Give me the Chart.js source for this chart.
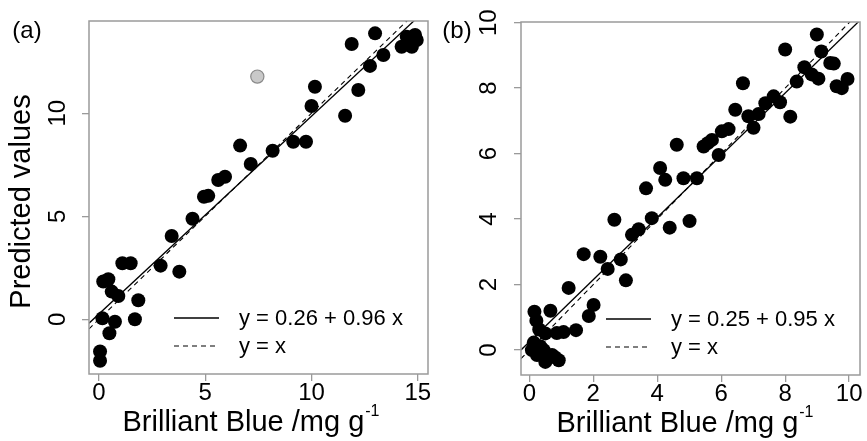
<!DOCTYPE html>
<html lang="en">
<head>
<meta charset="UTF-8">
<title>Brilliant Blue - predicted vs measured</title>
<script src="https://cdn.jsdelivr.net/npm/chart.js"></script>
<style>
  html, body { margin: 0; padding: 0; background: #fff; }
  #wrap { position: relative; width: 867px; height: 441px; }
  canvas { position: absolute; top: 0; }
  #chartA { left: 0; }
  #chartB { left: 436px; }
</style>
</head>
<body>
<div id="wrap">
  <canvas id="chartA" width="436" height="441"></canvas>
  <canvas id="chartB" width="431" height="441"></canvas>
</div>
<script>
// ---- panel (a) data ----
const aMeasured = [0.05, 0.05, 0.49, 0.75, 0.16, 1.69, 1.85, 0.91, 0.60, 0.20, 0.44, 1.10, 1.49,
  2.90, 3.78, 3.42, 4.40, 4.94, 5.14, 5.61, 5.93, 6.64, 7.14, 8.17, 9.14, 9.74, 10.00, 10.16,
  11.58, 11.89, 12.20, 12.75, 12.99, 13.38, 14.24, 14.48, 14.87, 14.95, 14.72];
const aPredicted = [-2.02, -1.57, -0.68, -0.12, 0.05, 0.00, 0.92, 1.13, 1.34, 1.83, 1.94, 2.72, 2.72,
  2.60, 2.31, 4.04, 4.88, 5.95, 5.99, 6.76, 6.92, 8.43, 7.54, 8.18, 8.62, 8.62, 10.35, 11.29,
  9.88, 13.36, 11.13, 12.30, 13.88, 12.83, 13.23, 13.72, 13.80, 13.56, 13.23];
const aOutlierX = [7.45];
const aOutlierY = [11.78];
const aXTicks = [0, 5, 10, 15];
const aYTicks = [0, 5, 10];
const aFit = [0.26, 0.96];   // intercept, slope

// ---- panel (b) data ----
const bMeasured = [8.99, 8.00, 9.13, 8.60, 9.41, 9.52, 8.83, 9.04, 8.36, 9.61, 9.77, 9.95, 6.68,
  8.16, 7.64, 7.84, 7.38, 7.17, 6.85, 7.01, 6.44, 6.23, 6.02, 5.92, 5.71, 5.45, 5.58, 4.61,
  5.24, 4.82, 4.09, 4.25, 3.65, 3.83, 4.39, 5.01, 2.66, 3.42, 3.21, 1.70, 2.22, 2.45, 2.86,
  3.02, 1.23, 2.01, 1.86, 0.66, 1.46, 1.07, 0.86, 0.16, 0.22, 0.31, 0.50, 0.14, 0.34, 0.08,
  0.24, 0.45, 0.50, 0.71, 0.92, 0.80];
const bPredicted = [9.64, 9.18, 9.12, 8.64, 8.77, 8.75, 8.42, 8.29, 8.20, 8.06, 8.00, 8.28, 8.15,
  7.13, 7.75, 7.57, 7.54, 7.21, 7.14, 6.79, 7.34, 6.75, 6.68, 5.96, 6.42, 6.22, 6.32, 6.27,
  5.25, 5.25, 5.56, 5.20, 4.94, 4.03, 3.74, 3.94, 3.98, 3.69, 3.52, 2.93, 2.85, 2.48, 2.77,
  2.13, 1.90, 1.38, 1.04, 1.20, 0.61, 0.55, 0.52, 1.17, 0.90, 0.63, 0.51, 0.23, 0.12, 0.00,
  -0.15, 0.00, -0.36, -0.15, -0.31, -0.22];
const bXTicks = [0, 2, 4, 6, 8, 10];
const bYTicks = [0, 2, 4, 6, 8, 10];
const bFit = [0.25, 0.95];

const FONT = '"Liberation Sans", Arial, Helvetica, sans-serif';
const TICK_GREY = '#9a9a9a';
const DASH = [5, 4];

// draws the R-style box, rotated y labels, axis titles, legend and panel tag
const rDecor = {
  id: 'rDecor',
  afterDraw(chart, args, o) {
    const { ctx, chartArea: a, scales: { x, y } } = chart;
    ctx.save();
    ctx.strokeStyle = TICK_GREY;
    ctx.lineWidth = 1.5;
    ctx.strokeRect(a.left, a.top, a.right - a.left, a.bottom - a.top);

    ctx.fillStyle = '#000';
    ctx.textAlign = 'center';
    ctx.textBaseline = 'middle';
    ctx.font = '24px ' + FONT;
    o.xTicks.forEach(v => ctx.fillText(String(v), x.getPixelForValue(v), a.bottom + 19));
    o.yTicks.forEach(v => {
      ctx.save();
      ctx.translate(a.left + o.yLabelOffset, y.getPixelForValue(v));
      ctx.rotate(-Math.PI / 2);
      ctx.fillText(String(v), 0, 0);
      ctx.restore();
    });

    // x title with superscript
    const main = 'Brilliant Blue /mg g';
    const sup = '-1';
    ctx.font = '29px ' + FONT;
    const w1 = ctx.measureText(main).width;
    ctx.font = '16px ' + FONT;
    const w2 = ctx.measureText(sup).width;
    const start = (a.left + a.right) / 2 + o.titleShift - (w1 + w2) / 2;
    ctx.textAlign = 'left';
    ctx.font = '29px ' + FONT;
    ctx.fillText(main, start, a.bottom + 49);
    ctx.font = '16px ' + FONT;
    ctx.fillText(sup, start + w1 + 1, a.bottom + 38);

    if (o.yTitle) {
      ctx.save();
      ctx.textAlign = 'center';
      ctx.font = '29px ' + FONT;
      ctx.translate(22, (a.top + a.bottom) / 2 + 4);
      ctx.rotate(-Math.PI / 2);
      ctx.fillText(o.yTitle, 0, 0);
      ctx.restore();
    }

    // panel tag
    ctx.textAlign = 'center';
    ctx.font = '24px ' + FONT;
    ctx.fillText(o.tag, o.tagX, 31);

    // legend
    const lx = a.left + 85;
    const y1 = a.bottom - 56, y2 = a.bottom - 28;
    ctx.strokeStyle = '#000';
    ctx.lineWidth = 1.3;
    ctx.beginPath(); ctx.moveTo(lx, y1); ctx.lineTo(lx + 45, y1); ctx.stroke();
    ctx.lineWidth = 1.1;
    ctx.setLineDash(DASH);
    ctx.beginPath(); ctx.moveTo(lx, y2); ctx.lineTo(lx + 45, y2); ctx.stroke();
    ctx.setLineDash([]);
    ctx.textAlign = 'left';
    ctx.font = '22px ' + FONT;
    ctx.fillText('y = ' + o.fit[0].toFixed(2) + ' + ' + o.fit[1].toFixed(2) + ' x', lx + 65, y1 + 1);
    ctx.fillText('y = x', lx + 65, y2 + 1);
    ctx.restore();
  }
};

function axis(min, max, ticks, fitFn) {
  return {
    type: 'linear',
    min: min,
    max: max,
    afterBuildTicks: s => { s.ticks = ticks.map(v => ({ value: v })); },
    afterFit: fitFn,
    ticks: { display: false },
    border: { display: false },
    grid: { drawOnChartArea: false, drawTicks: true, tickLength: 7, color: TICK_GREY, lineWidth: 1.3 }
  };
}

function makePanel(id, p) {
  const pts = p.xs.map((v, i) => ({ x: v, y: p.ys[i] }));
  const fitLine = [p.xMin, p.xMax].map(v => ({ x: v, y: p.fit[0] + p.fit[1] * v }));
  const idLine = [p.xMin, p.xMax].map(v => ({ x: v, y: v }));
  const datasets = [
    { data: pts, backgroundColor: '#000', borderColor: '#000', pointRadius: 7, borderWidth: 0, pointHoverRadius: 7 },
    { type: 'line', data: fitLine, borderColor: '#000', borderWidth: 1.3, pointRadius: 0, clip: 0 },
    { type: 'line', data: idLine, borderColor: '#000', borderWidth: 1.1, borderDash: DASH, pointRadius: 0, clip: 0 }
  ];
  if (p.outX) {
    datasets.push({
      data: p.outX.map((v, i) => ({ x: v, y: p.outY[i] })),
      backgroundColor: '#c9c9c9', borderColor: '#8a8a8a', borderWidth: 1.2, pointRadius: 6.6
    });
  }
  new Chart(document.getElementById(id), {
    type: 'scatter',
    data: { datasets: datasets },
    options: {
      responsive: false,
      animation: false,
      events: [],
      layout: { padding: { left: 0, top: p.top, right: p.right, bottom: 0 } },
      scales: {
        x: axis(p.xMin, p.xMax, p.xTicks, s => { s.height = p.xHeight; }),
        y: axis(p.yMin, p.yMax, p.yTicks, s => { s.width = p.yWidth; })
      },
      plugins: {
        legend: { display: false },
        tooltip: { enabled: false },
        rDecor: {
          xTicks: p.xTicks, yTicks: p.yTicks, fit: p.fit, tag: p.tag, tagX: p.tagX,
          yTitle: p.yTitle, yLabelOffset: p.yLabelOffset, titleShift: p.titleShift
        }
      }
    },
    plugins: [rDecor]
  });
}

makePanel('chartA', {
  xs: aMeasured, ys: aPredicted, outX: aOutlierX, outY: aOutlierY,
  xTicks: aXTicks, yTicks: aYTicks, fit: aFit,
  xMin: -0.47, xMax: 15.48, yMin: -2.66, yMax: 14.48,
  top: 21, right: 8, xHeight: 67, yWidth: 89,
  tag: '(a)', tagX: 27, yTitle: 'Predicted values', yLabelOffset: -31, titleShift: -8
});

makePanel('chartB', {
  xs: bMeasured, ys: bPredicted,
  xTicks: bXTicks, yTicks: bYTicks, fit: bFit,
  xMin: -0.26, xMax: 10.34, yMin: -0.76, yMax: 10.02,
  top: 22, right: 7, xHeight: 66, yWidth: 85,
  tag: '(b)', tagX: 21, yTitle: null, yLabelOffset: -32, titleShift: -6
});
</script>
</body>
</html>
